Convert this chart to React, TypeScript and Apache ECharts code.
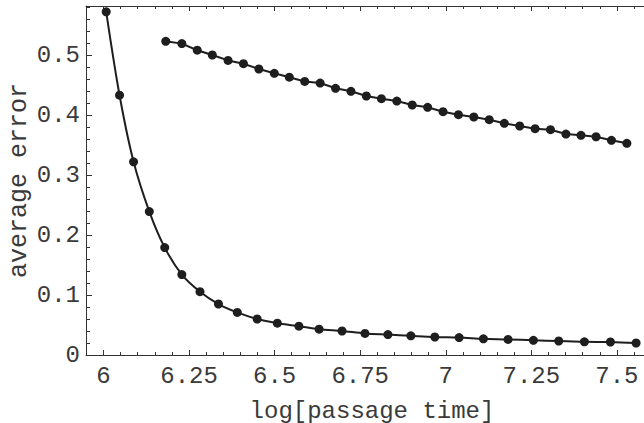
import React, { useEffect, useRef } from "react";
import * as echarts from "echarts";

const xMajor = [6, 6.25, 6.5, 6.75, 7, 7.25, 7.5];
const xMajorLabels = ["6", "6.25", "6.5", "6.75", "7", "7.25", "7.5"];
const xMinor = [
  5.95, 6.05, 6.1, 6.15, 6.2, 6.3, 6.35, 6.4, 6.45, 6.55, 6.6, 6.65, 6.7, 6.8, 6.85, 6.9, 6.95,
  7.05, 7.1, 7.15, 7.2, 7.3, 7.35, 7.4, 7.45, 7.55, 7.6,
];
const yMajor = [0, 0.1, 0.2, 0.3, 0.4, 0.5];
const yMajorLabels = ["0", "0.1", "0.2", "0.3", "0.4", "0.5"];
const yMinor = [
  0.02, 0.04, 0.06, 0.08, 0.12, 0.14, 0.16, 0.18, 0.22, 0.24, 0.26, 0.28, 0.32, 0.34, 0.36, 0.38,
  0.42, 0.44, 0.46, 0.48, 0.52, 0.54, 0.56, 0.58,
];

const fastX = [
  6.008, 6.047, 6.088, 6.134, 6.179, 6.229, 6.282, 6.336, 6.391, 6.449, 6.508, 6.571, 6.63,
  6.697, 6.764, 6.831, 6.898, 6.968, 7.039, 7.11, 7.182, 7.256, 7.33, 7.405, 7.481, 7.556,
];
const fastY = [
  0.572, 0.433, 0.322, 0.239, 0.179, 0.134, 0.1055, 0.085, 0.071, 0.06, 0.053, 0.048, 0.043,
  0.04, 0.036, 0.034, 0.032, 0.03, 0.029, 0.027, 0.026, 0.0245, 0.0233, 0.022, 0.0217, 0.02,
];

const slowX = [
  6.182, 6.229, 6.274, 6.318, 6.364, 6.409, 6.454, 6.499, 6.543, 6.588, 6.633, 6.678, 6.723,
  6.768, 6.812, 6.857, 6.902, 6.947, 6.992, 7.037, 7.082, 7.127, 7.171, 7.216, 7.261, 7.306,
  7.351, 7.395, 7.439, 7.484, 7.529,
];
const slowY = [
  0.5228, 0.519, 0.508, 0.5, 0.491, 0.4855, 0.4767, 0.4695, 0.463, 0.456, 0.4533, 0.4445,
  0.4395, 0.4317, 0.4272, 0.4233, 0.4167, 0.4128, 0.4055, 0.4005, 0.3967, 0.3922, 0.3862,
  0.3817, 0.3772, 0.3755, 0.3683, 0.3662, 0.3638, 0.3578, 0.3528,
];

const X_MIN = 5.949;
const X_MAX = 7.62;
const Y_MIN = 0;
const Y_MAX = 0.5817;

const FONT = "Liberation Mono";
const AX = "#333";
const INK = "#1e1e1e";
const TXT = "#3a3a3a";

export default function App() {
  const ref = useRef<HTMLDivElement>(null);
  useEffect(() => {
    if (!ref.current) return;
    const chart = echarts.init(ref.current, undefined, { renderer: "svg" });
    const fmtX = (v: number) => {
      const i = xMajor.findIndex((m) => Math.abs(m - v) < 1e-6);
      return i >= 0 ? xMajorLabels[i] : "";
    };
    const fmtY = (v: number) => {
      const i = yMajor.findIndex((m) => Math.abs(m - v) < 1e-6);
      return i >= 0 ? yMajorLabels[i] : "";
    };
    const baseX = (extra: any) => ({
      type: "value",
      min: X_MIN,
      max: X_MAX,
      splitLine: { show: false },
      ...extra,
    });
    const baseY = (extra: any) => ({
      type: "value",
      min: Y_MIN,
      max: Y_MAX,
      splitLine: { show: false },
      ...extra,
    });
    chart.setOption({
      animation: false,
      backgroundColor: "#fff",
      grid: { left: 86, top: 6, bottom: 68, right: 0, containLabel: false, outerBoundsMode: "none" },
      xAxis: [
        baseX({
          position: "bottom",
          axisLine: { show: true, lineStyle: { color: AX, width: 1 } },
          axisTick: { show: true, inside: true, length: 5, customValues: xMajor, lineStyle: { color: AX } },
          axisLabel: {
            show: true,
            customValues: xMajor,
            formatter: fmtX,
            fontFamily: FONT,
            fontSize: 24,
            color: TXT,
            margin: 9,
          },
          name: "log[passage time]",
          nameLocation: "middle",
          nameGap: 47,
          nameMoveOverlap: false,
          nameTextStyle: { fontFamily: FONT, fontSize: 24, color: TXT, lineHeight: 18 },
        }),
        baseX({
          position: "bottom",
          axisLine: { show: false },
          axisTick: { show: true, inside: true, length: 3, customValues: xMinor, lineStyle: { color: AX } },
          axisLabel: { show: false },
        }),
        baseX({
          position: "top",
          axisLine: { show: true, lineStyle: { color: AX, width: 1 } },
          axisTick: { show: true, inside: true, length: 5, customValues: xMajor, lineStyle: { color: AX } },
          axisLabel: { show: false },
        }),
        baseX({
          position: "top",
          axisLine: { show: false },
          axisTick: { show: true, inside: true, length: 3, customValues: xMinor, lineStyle: { color: AX } },
          axisLabel: { show: false },
        }),
      ],
      yAxis: [
        baseY({
          position: "left",
          axisLine: { show: true, lineStyle: { color: AX, width: 1 } },
          axisTick: { show: true, inside: true, length: 6, customValues: yMajor, lineStyle: { color: AX } },
          axisLabel: {
            show: true,
            customValues: yMajor,
            formatter: fmtY,
            fontFamily: FONT,
            fontSize: 24,
            color: TXT,
            margin: 6,
          },
          name: "average error",
          nameLocation: "middle",
          nameGap: 54,
          nameRotate: 90,
          nameMoveOverlap: false,
          nameTextStyle: { fontFamily: FONT, fontSize: 25, color: TXT },
        }),
        baseY({
          position: "left",
          axisLine: { show: false },
          axisTick: { show: true, inside: true, length: 4, customValues: yMinor, lineStyle: { color: AX } },
          axisLabel: { show: false },
        }),
      ],
      series: [
        {
          type: "line",
          xAxisIndex: 0,
          yAxisIndex: 0,
          data: fastX.map((x, i) => [x, fastY[i]]),
          smooth: 0.3,
          symbol: "circle",
          symbolSize: 9,
          lineStyle: { color: INK, width: 2 },
          itemStyle: { color: INK },
        },
        {
          type: "line",
          xAxisIndex: 0,
          yAxisIndex: 0,
          data: slowX.map((x, i) => [x, slowY[i]]),
          smooth: false,
          symbol: "circle",
          symbolSize: 9,
          lineStyle: { color: INK, width: 2 },
          itemStyle: { color: INK },
        },
      ],
    });
    return () => chart.dispose();
  }, []);
  return (
    <div style={{ position: "fixed", left: 0, top: 0, width: 644, height: 423, overflow: "hidden", background: "#fff" }}>
      <div ref={ref} style={{ width: 658, height: 423 }} />
    </div>
  );
}
